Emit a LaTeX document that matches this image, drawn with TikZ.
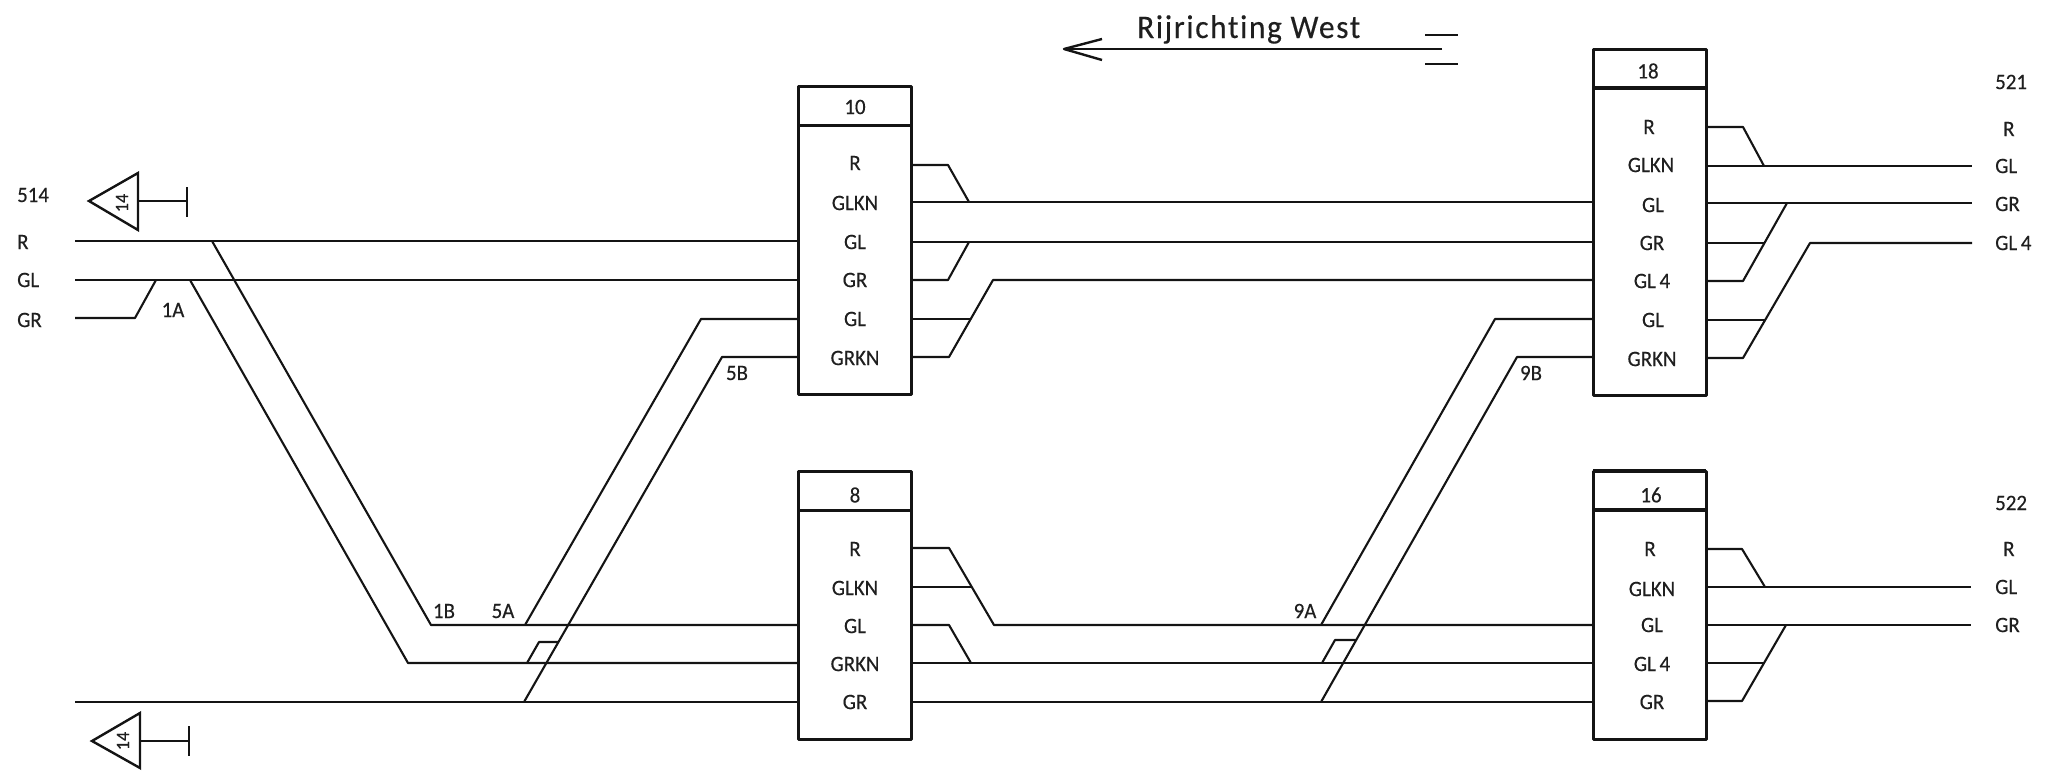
\documentclass[tikz,border=0pt]{standalone}
\usepackage{fontspec}
\setmainfont{Carlito}[FakeStretch=0.95,FakeBold=0.35,Ligatures=NoCommon]
\tikzset{
  x=1pt,y=-1pt,
  wire/.style={draw=black!92,line width=2.1pt,line join=round},
  frame/.style={draw=black!92,line width=3pt,line join=round},
  unit/.style={frame,minimum width=113pt,inner sep=0pt,outer sep=0pt,anchor=north west,fill=white},
  txt/.style={inner sep=0pt,font=\fontsize{22}{24}\selectfont,text=black!88},
  ltxt/.style={txt,anchor=west},
  flag/.style={draw=black!92,line width=2.4pt,line join=miter},
}
\begin{document}
\begin{tikzpicture}
\useasboundingbox (0,0) rectangle (2056,771);

% coordinates
\foreach \n/\px/\py in {
 a1/75/241,a2/75/280,a3/75/318,a3b/135/318,a3c/156/280,a4/75/702,
 d1a/212/241,d1b/431/625,d2a/190/280,d2b/408/663,
 s5a/525/625,s5b/701/319,s6a/524/702,s6b/722/357,j1/527/663,j2/539/642,j3/558/642,
 s9a/1321/625,s9b/1495/319,s10a/1321/702,s10b/1517/357,k1/1322/663,k2/1335/640,k3/1356/640,
 p1/948/165,p2/969/202,p3/948/280,p4/969/242,p5/970/319,p6/949/357,p7/993/280,
 q1/1743/127,q2/1764/166,q3/1972/166,q4/1972/203,q5/1764/243,q6/1743/281,q7/1787/203,
 q8/1766/320,q9/1743/358,q10/1810/243,q11/1972/243,
 r1/949/548,r2/994/625,r3/972/587,r4/949/625,r5/971/663,
 t1/1742/549,t2/1765/587,t3/1971/587,t4/1971/625,t5/1764/663,t6/1742/701,t7/1786/625,
 ar1/1442/49,ar2/1064/49,ar3/1102/39,ar4/1102/60,e1/1425/35,e2/1458/35,e3/1425/64,e4/1458/64,
 f1t/89/201,f1u/138/173,f1d/138/230,f1m/138/201,f1e/187/201,f1a/187/187,f1b/187/217,
 f2t/92/741,f2u/140/713,f2d/140/768,f2m/140/741,f2e/189/741,f2a/189/726,f2b/189/756}
 {\coordinate (\n) at (\px,\py);}

% units
\node[unit,minimum height=308pt] (b10) at (798,86) {};
\node[unit,minimum height=346pt] (b18) at (1593,49) {};
\node[unit,minimum height=268pt] (b8) at (798,471) {};
\node[unit,minimum height=268pt] (b16) at (1593,471) {};
\draw[frame] (b10.west |- 0,125) -- (b10.east |- 0,125);
\draw[frame,line width=4pt] (b18.west |- 0,88) -- (b18.east |- 0,88);
\draw[frame] (b8.west |- 0,510) -- (b8.east |- 0,510);
\draw[frame,line width=4pt] (b16.west |- 0,510) -- (b16.east |- 0,510);
\draw[frame,line width=4.4pt] (b16.north west) -- (b16.north east);

% left-hand wires
\draw[wire] (a1) -- (b10.west |- a1);
\draw[wire] (a2) -- (b10.west |- a2);
\draw[wire] (a3) -- (a3b) -- (a3c);
\draw[wire] (a4) -- (b8.west |- a4);
\draw[wire] (d1a) -- (d1b) -- (b8.west |- d1b);
\draw[wire] (d2a) -- (d2b) -- (b8.west |- d2b);
\draw[wire] (s5a) -- (s5b) -- (b10.west |- s5b);
\draw[wire] (s6a) -- (s6b) -- (b10.west |- s6b);
\draw[wire] (j1) -- (j2) -- (j3);

% box 10 outputs
\draw[wire] (b10.east |- p1) -- (p1) -- (p2);
\draw[wire] (b10.east |- p2) -- (b18.west |- p2);
\draw[wire] (b10.east |- p4) -- (b18.west |- p4);
\draw[wire] (b10.east |- p3) -- (p3) -- (p4);
\draw[wire] (b10.east |- p5) -- (p5);
\draw[wire] (b10.east |- p6) -- (p6) -- (p7) -- (b18.west |- p7);

% box 18 inputs/outputs
\draw[wire] (s9a) -- (s9b) -- (b18.west |- s9b);
\draw[wire] (s10a) -- (s10b) -- (b18.west |- s10b);
\draw[wire] (b18.east |- q1) -- (q1) -- (q2);
\draw[wire] (b18.east |- q3) -- (q3);
\draw[wire] (b18.east |- q4) -- (q4);
\draw[wire] (b18.east |- q5) -- (q5);
\draw[wire] (b18.east |- q6) -- (q6) -- (q7);
\draw[wire] (b18.east |- q8) -- (q8);
\draw[wire] (b18.east |- q9) -- (q9) -- (q10) -- (q11);

% box 8 outputs
\draw[wire] (b8.east |- r1) -- (r1) -- (r2) -- (b16.west |- r2);
\draw[wire] (b8.east |- r3) -- (r3);
\draw[wire] (b8.east |- r4) -- (r4) -- (r5);
\draw[wire] (b8.east |- r5) -- (b16.west |- r5);
\draw[wire] (b8.east |- a4) -- (b16.west |- a4);
\draw[wire] (k1) -- (k2) -- (k3);

% box 16 outputs
\draw[wire] (b16.east |- t1) -- (t1) -- (t2);
\draw[wire] (b16.east |- t3) -- (t3);
\draw[wire] (b16.east |- t4) -- (t4);
\draw[wire] (b16.east |- t5) -- (t5);
\draw[wire] (b16.east |- t6) -- (t6) -- (t7);

% direction arrow
\draw[wire,line width=2.4pt] (ar1) -- (ar2);
\draw[wire,line width=2.4pt] (ar3) -- (ar2) -- (ar4);
\draw[wire,line width=2.4pt] (e1) -- (e2);
\draw[wire,line width=2.4pt] (e3) -- (e4);
\node[txt,font=\fontsize{33}{35}\selectfont\addfontfeature{LetterSpace=5},anchor=base west] (dir) at (1137,38) {Rijrichting West};

% flags
\draw[flag] (f1t) -- (f1u) -- (f1d) -- cycle;
\draw[flag] (f1m) -- (f1e);
\draw[flag] (f1a) -- (f1b);
\draw[flag] (f2t) -- (f2u) -- (f2d) -- cycle;
\draw[flag] (f2m) -- (f2e);
\draw[flag] (f2a) -- (f2b);
\node[txt,rotate=90,font=\fontsize{19}{20}\selectfont] (fl1) at (122,203) {14};
\node[txt,rotate=90,font=\fontsize{19}{20}\selectfont] (fl2) at (123,741) {14};

% box texts
\foreach \n/\t/\px/\py in {
 h10/10/855/107, h18/18/1648/71, h8/8/855/495, h16/16/1651/495,
 a/R/855/163, b/GLKN/855/203, c/GL/855/242, d/GR/855/280, e/GL/855/319, f/GRKN/855/358,
 g/R/1649/127, h/GLKN/1651/165, i/GL/1653/205, j/GR/1652/243, k/GL\,4/1652/281, l/GL/1653/320, m/GRKN/1652/359,
 n/R/855/549, o/GLKN/855/588, p/GL/855/626, r/GRKN/855/664, s/GR/855/702,
 u/R/1650/549, v/GLKN/1652/589, w/GL/1652/625, x/GL\,4/1652/664, y/GR/1652/702,
 l1A/1A/173/310, l1B/1B/444/611, l5A/5A/503/611, l5B/5B/737/373, l9A/9A/1305/611, l9B/9B/1531/373}
 {\node[txt] (n\n) at (\px,\py) {\t};}
% side texts
\foreach \n/\t/\px/\py in {
 s1/514/17/195, s2/R/17/242, s3/GL/17/280, s4/GR/17/320,
 s5/521/1995/82, s6/R/2003/129, s7/GL/1995/166, s8/GR/1995/204, s9/GL\,4/1995/243,
 s10/522/1995/503, s11/R/2003/549, s12/GL/1995/587, s13/GR/1995/625}
 {\node[ltxt] (n\n) at (\px,\py) {\t};}
\end{tikzpicture}
\end{document}
